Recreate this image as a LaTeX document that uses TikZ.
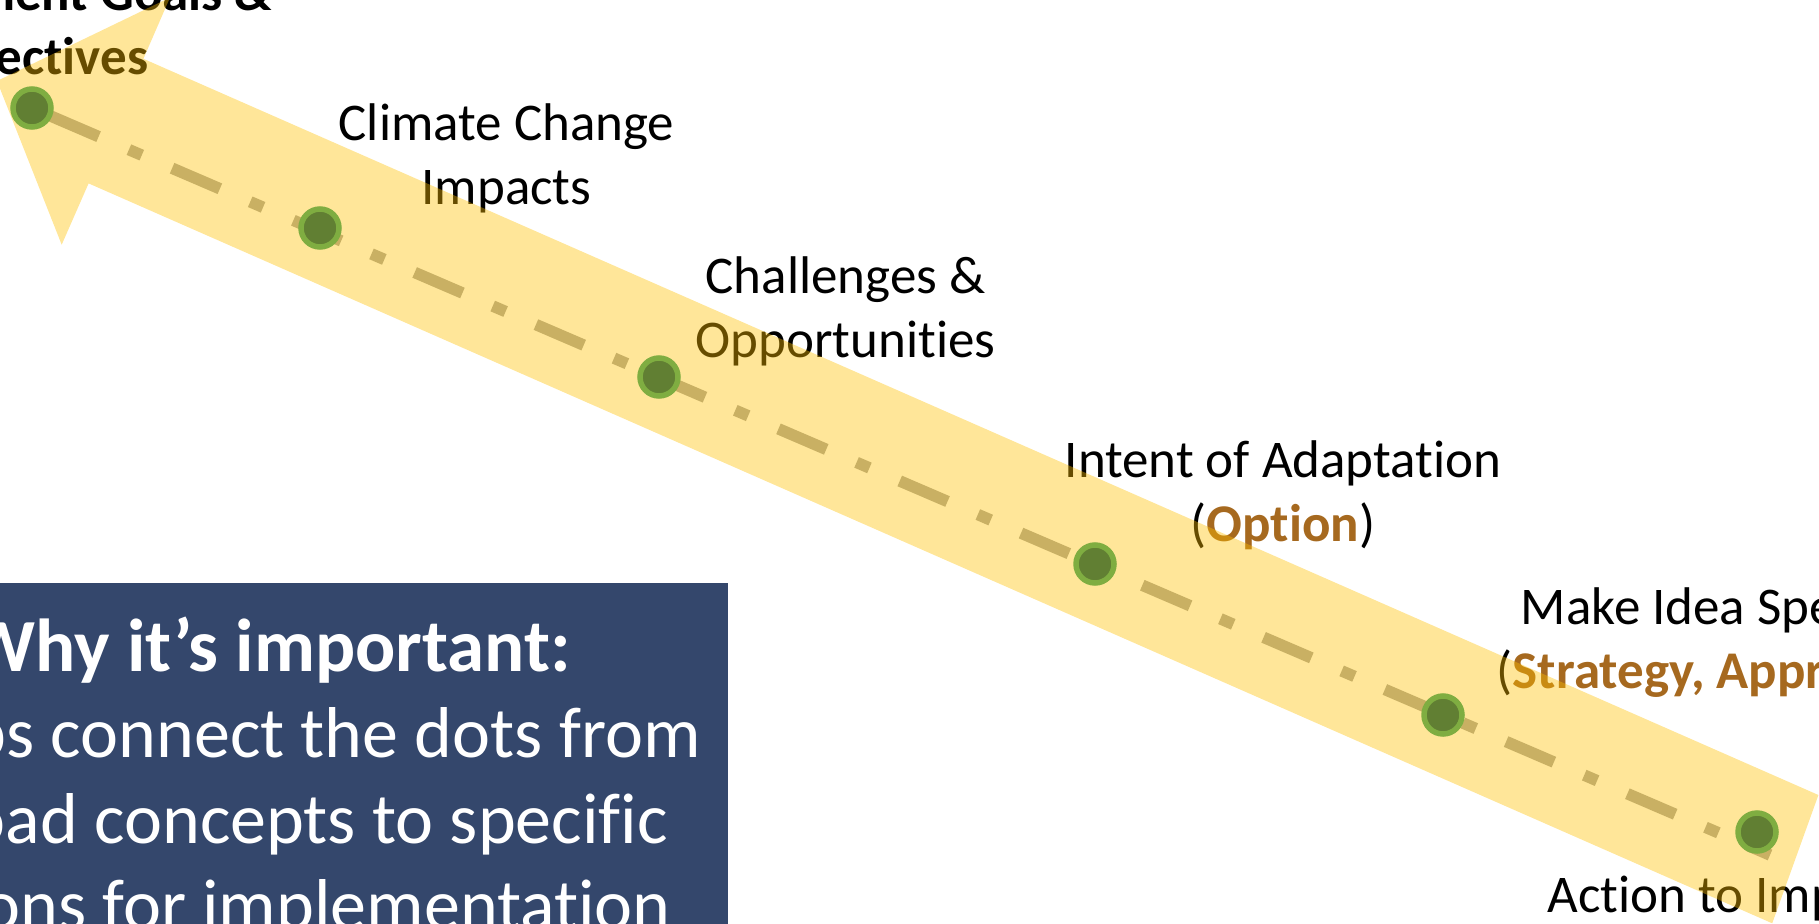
\documentclass[tikz,border=0pt]{standalone}
\usepackage{fontspec}
\setmainfont{Carlito}[Ligatures=NoCommon]
\pgfdeclarelayer{under}
\pgfdeclarelayer{band}
\pgfsetlayers{under,band,main}
\definecolor{gold}{HTML}{FFC000}
\definecolor{dashgray}{HTML}{A6A6A6}
\definecolor{dotfill}{HTML}{617F33}
\definecolor{dotring}{HTML}{7FAD41}
\definecolor{optc}{HTML}{A6691F}
\definecolor{boxblue}{HTML}{34476C}
\tikzset{
  lbl/.style={font=\fontsize{53}{64}\selectfont, align=center, anchor=base, inner sep=0pt, text=black},
  dotnode/.style={circle, draw=dotring, fill=dotfill, line width=5.5pt, minimum size=38pt, inner sep=0pt},
  pathline/.style={draw=dashgray, line width=11.5pt, dash pattern=on 52pt off 33pt on 14pt off 33pt, dash phase=111.5pt},
  bandstyle/.style={fill=gold, fill opacity=0.4},
  boxtxt/.style={font=\fontsize{72}{86}\selectfont, text=white, anchor=base east, inner sep=0pt},
  boxhead/.style={boxtxt, font=\fontsize{75}{86}\selectfont\bfseries}
}
\begin{document}
\begin{tikzpicture}[x=1pt,y=-1pt]
\useasboundingbox (0,0) rectangle (1819,923);
\clip (0,0) rectangle (1819,923);
% info box
\fill[boxblue] (-20,583) rectangle (728,940);
\node[boxhead] (why) at (571,671) {Why it’s important:};
\node[boxtxt] (b1) at (701,757) {Helps connect the dots from};
\node[boxtxt] (b2) at (668,843) {broad concepts to specific};
\node[boxtxt] (b3) at (671,929) {actions for implementation};
% dots
\node[dotnode] (d1) at (32,108) {};
\node[dotnode] (d2) at (320,228) {};
\node[dotnode] (d3) at (659,377) {};
\node[dotnode] (d4) at (1095,564) {};
\node[dotnode] (d5) at (1443,715) {};
\node[dotnode] (d6) at (1757,832) {};
\coordinate (lineend) at (1770,855);
\begin{pgfonlayer}{under}
\draw[pathline] (d1.center) -- (lineend);
\node[lbl, font=\fontsize{53}{64}\selectfont\bfseries] (l1) at (33,75) {Management Goals \&\\Objectives};
\node[lbl] (l2) at (506.5,204) {Climate Change\\Impacts};
\node[lbl] (l3) at (845.5,357) {Challenges \&\\Opportunities};
\node[lbl] (l4) at (1283,541) {Intent of Adaptation\\(\textbf{\color{optc}Option})};
\node[lbl] (l5) at (1721,688) {Make Idea Specific\\(\textbf{\color{optc}Strategy, Approach})};
\node[lbl] (l6) at (1769.5,912) {Action to Implement};
\end{pgfonlayer}
\begin{pgfonlayer}{band}
\fill[bandstyle] (-3,81) -- (170,-2.5) -- (143.4,58.8) -- (1818.4,795) -- (1772.2,923.3) -- (88.6,183.4) -- (61.7,244.7) -- cycle;
\end{pgfonlayer}
\end{tikzpicture}
\end{document}
